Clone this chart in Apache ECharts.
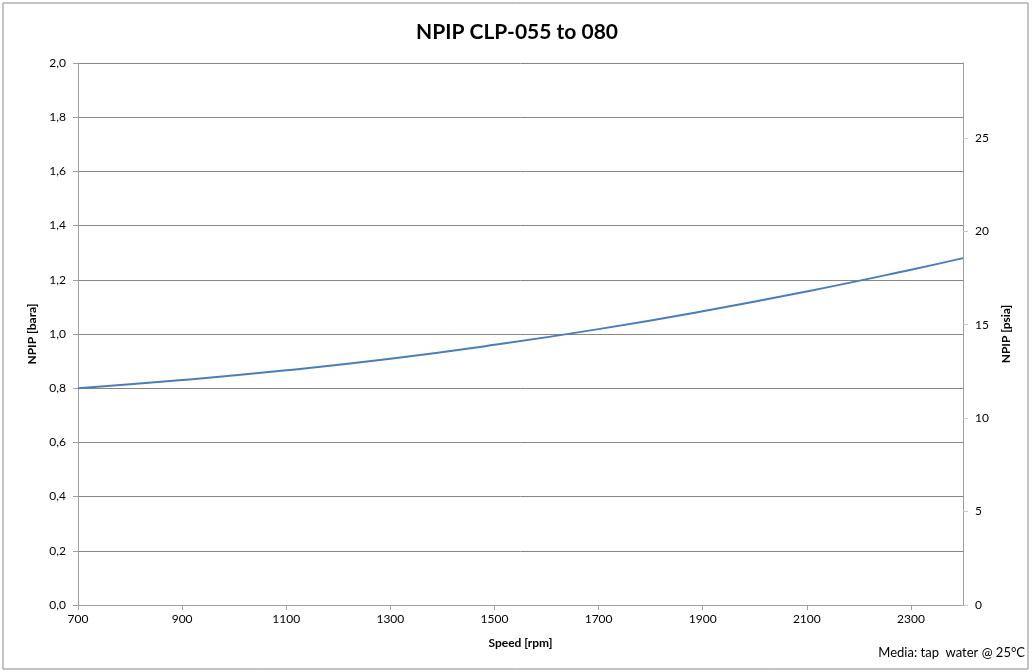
<!DOCTYPE html>
<html>
<head>
<meta charset="utf-8">
<script src="https://cdn.jsdelivr.net/npm/echarts@6/dist/echarts.min.js"></script>
<style>
html, body { margin: 0; padding: 0; background: #fff; }
#main { width: 1034px; height: 672px; }
</style>
</head>
<body>
<div id="main"></div>
<script>
// speed [rpm] and NPIP [bara]
var speeds = [700, 900, 1100, 1300, 1500, 1700, 1900, 2100, 2300, 2400];
var npipBara = [0.800, 0.830, 0.866, 0.909, 0.960, 1.018, 1.084, 1.157, 1.237, 1.280];
var BAR_TO_PSI = 14.5038;

window.onload = function () {
    var myChart = echarts.init(document.getElementById('main'));
    var font = 'Lato, "Open Sans", sans-serif';
    var data = speeds.map(function (s, i) { return [s, npipBara[i]]; });

    var option = {
        animation: false,
        textStyle: { fontFamily: font },
        title: {
            text: 'NPIP CLP-055 to 080',
            left: 'center',
            top: 17,
            textStyle: { fontSize: 21, fontWeight: 'bold', color: '#000', fontFamily: font }
        },
        graphic: [
            {
                type: 'rect',
                shape: { x: 3, y: 3, width: 1025, height: 666 },
                style: { fill: 'none', stroke: '#888', lineWidth: 1 }
            },
            {
                type: 'text',
                right: 9,
                top: 646,
                style: { text: 'Media: tap  water @ 25°C', fontSize: 13, fill: '#000', fontFamily: font }
            }
        ],
        grid: { left: 78, right: 71, top: 63, bottom: 67 },
        xAxis: {
            type: 'value',
            min: 700,
            max: 2400,
            interval: 200,
            name: 'Speed [rpm]',
            nameLocation: 'middle',
            nameGap: 32,
            nameTextStyle: { fontSize: 12, fontWeight: 'bold', color: '#000', fontFamily: font },
            axisLine: { lineStyle: { color: '#a0a0a0' } },
            axisTick: { show: true, length: 5, lineStyle: { color: '#a0a0a0' } },
            axisLabel: {
                fontSize: 12, color: '#000', margin: 8, showMaxLabel: false,
                formatter: function (v) { return String(v); }
            },
            splitLine: { show: false }
        },
        yAxis: [
            {
                type: 'value',
                min: 0,
                max: 2,
                interval: 0.2,
                name: 'NPIP [bara]',
                nameLocation: 'middle',
                nameGap: 34,
                nameRotate: 90,
                nameTextStyle: { fontSize: 12, fontWeight: 'bold', color: '#000', fontFamily: font },
                axisLine: { show: true, lineStyle: { color: '#a0a0a0' } },
                axisTick: { show: true, length: 5, lineStyle: { color: '#a0a0a0' } },
                axisLabel: {
                    fontSize: 12, color: '#000', margin: 12,
                    formatter: function (v) { return v.toFixed(1).replace('.', ','); }
                },
                splitLine: { show: true, lineStyle: { color: '#868686' } }
            },
            {
                type: 'value',
                min: 0,
                max: 2 * BAR_TO_PSI,
                interval: 5,
                name: 'NPIP [psia]',
                nameLocation: 'middle',
                nameGap: 34,
                nameRotate: 90,
                nameTextStyle: { fontSize: 12, fontWeight: 'bold', color: '#000', fontFamily: font },
                axisLine: { show: true, lineStyle: { color: '#a0a0a0' } },
                axisTick: { show: true, length: 5, lineStyle: { color: '#c8c8c8' } },
                axisLabel: {
                    fontSize: 12, color: '#000', margin: 12, showMaxLabel: false,
                    formatter: function (v) { return String(v); }
                },
                splitLine: { show: false }
            }
        ],
        series: [{
            name: 'NPIP',
            type: 'line',
            smooth: true,
            symbol: 'none',
            data: data,
            lineStyle: { color: '#4a7ebb', width: 2 }
        }]
    };
    myChart.setOption(option);
    window.addEventListener('resize', function () {
        myChart.resize();
    });
};
</script>
</body>
</html>
